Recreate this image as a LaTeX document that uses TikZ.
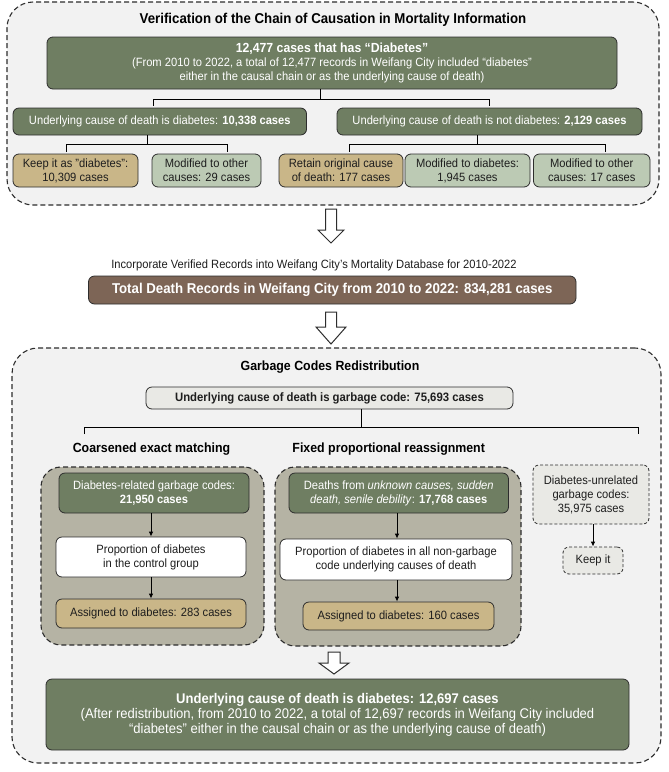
\documentclass[tikz,border=0pt]{standalone}
\usepackage{fontspec}
\setmainfont{Liberation Sans}[FakeStretch=0.93]
\usetikzlibrary{arrows.meta}
\definecolor{dgc}{RGB}{111,126,98}
\definecolor{tanc}{RGB}{201,182,136}
\definecolor{lgc}{RGB}{188,202,180}
\definecolor{grpc}{RGB}{181,179,164}
\definecolor{bgc}{RGB}{242,242,242}
\definecolor{gyc}{RGB}{233,233,229}
\definecolor{brc}{RGB}{125,101,86}
\definecolor{bdc}{RGB}{45,45,45}
\definecolor{txc}{RGB}{30,30,30}
\newcommand{\myfs}[2]{\fontsize{#1}{#2}\selectfont}
\newcommand{\sq}{\symbol{34}}
\tikzset{
 cont/.style={draw=bdc, line width=1.1pt, dash pattern=on 5pt off 3pt, rounded corners=26pt, fill=bgc, inner sep=0pt},
 grp/.style={draw=bdc, line width=1.1pt, dash pattern=on 5pt off 3pt, rounded corners=20pt, fill=grpc, inner sep=0pt},
 box/.style={draw=bdc, line width=0.8pt, rounded corners=6pt, inner sep=0pt, align=center, font=\myfs{12}{14}},
 dgbox/.style={box, fill=dgc, text=white},
 tanbox/.style={box, fill=tanc, text=txc},
 lgbox/.style={box, fill=lgc, text=txc},
 whbox/.style={box, fill=white, text=txc},
 gybox/.style={box, fill=gyc, text=txc},
 dashbox/.style={box, fill=gyc, text=txc, dash pattern=on 3pt off 2pt},
 br/.style={draw=black, line width=0.9pt},
 arr/.style={draw=black, line width=0.9pt, -{Latex[length=5pt,width=4.5pt]}},
 blk/.style={draw=bdc, line width=1pt, fill=white, line join=miter},
 ttl/.style={font=\myfs{14.25}{16}\bfseries, text=black},
 hdg/.style={font=\myfs{13.3}{15}\bfseries, text=black},
}
\begin{document}
\begin{tikzpicture}[x=1pt,y=-1pt]
\fill[white] (0,0) rectangle (669,772);
\useasboundingbox (0,0) rectangle (669,772);

% ---------- top panel ----------
\node[cont, minimum width=652, minimum height=203] (top) at (333,103.5) {};
\node[ttl] (t1) at (333,20) {Verification of the Chain of Causation in Mortality Information};
\node[dgbox, minimum width=570, minimum height=52] (main) at (332,63)
 {{\myfs{13.2}{15}\bfseries 12,477 cases that has “Diabetes”}\\
  (From 2010 to 2022, a total of 12,477 records in Weifang City included “diabetes”\\
  either in the causal chain or as the underlying cause of death)};
\node[dgbox, minimum width=293.5, minimum height=27] (l2a) at (159.8,121.5)
 {Underlying cause of death is diabetes: \textbf{10,338 cases}};
\node[dgbox, minimum width=305, minimum height=27] (l2b) at (489.5,121.5)
 {Underlying cause of death is not diabetes: \textbf{2,129 cases}};
\node[tanbox, minimum width=125, minimum height=33] (k1) at (75.5,170.5) {Keep it as \sq diabetes\sq:\\10,309 cases};
\node[lgbox, minimum width=109, minimum height=33] (k2) at (206.5,170.5) {Modified to other\\causes: 29 cases};
\node[tanbox, minimum width=124, minimum height=33] (k3) at (341,170.5) {Retain original cause\\of death: 177 cases};
\node[lgbox, minimum width=125, minimum height=33] (k4) at (467.5,170.5) {Modified to diabetes:\\1,945 cases};
\node[lgbox, minimum width=116.5, minimum height=33] (k5) at (591.75,170.5) {Modified to other\\causes: 17 cases};

% brackets top
\coordinate (b0) at (320,99);
\coordinate (b1) at (153,99);
\coordinate (b2) at (489,99);
\draw[br] (main.south -| b0) -- (b0);
\draw[br, shorten >=2pt] (b1) -- (b2) -- (l2b.north -| b2);
\draw[br, shorten >=2pt] (b1) -- (l2a.north -| b1);
\coordinate (c0) at (147,144);
\coordinate (c1) at (66,144);
\coordinate (c2) at (227,144);
\draw[br] (l2a.south -| c0) -- (c0);
\draw[br, shorten >=2pt] (c1) -- (c2) -- (k2.north -| c2);
\draw[br, shorten >=2pt] (c1) -- (k1.north -| c1);
\coordinate (d0) at (477,144);
\coordinate (d1) at (349,144);
\coordinate (d2) at (605,144);
\draw[br] (l2b.south -| d0) -- (d0);
\draw[br, shorten >=2pt] (d1) -- (d2) -- (k5.north -| d2);
\draw[br, shorten >=2pt] (d1) -- (k3.north -| d1);

% block arrow 1
\draw[blk] (325.5,209) -- (336.5,209) -- (336.5,230) -- (344,230) -- (331,243) -- (318,230) -- (325.5,230) -- cycle;

% ---------- middle ----------
\node[font=\myfs{12}{14}, text=txc] (inc) at (314,265) {Incorporate Verified Records into Weifang City’s Mortality Database for 2010-2022};
\node[box, fill=brc, text=white, minimum width=487.5, minimum height=28, font=\myfs{14.25}{16}\bfseries] (tot) at (332.25,290)
 {Total Death Records in Weifang City from 2010 to 2022: 834,281 cases};

% block arrow 2
\draw[blk] (325.5,312) -- (336.5,312) -- (336.5,327) -- (346,327) -- (331,344) -- (316,327) -- (325.5,327) -- cycle;

% ---------- bottom panel ----------
\node[cont, minimum width=649, minimum height=415] (bot) at (336.5,555.5) {};
\node[hdg] (t2) at (330,367) {Garbage Codes Redistribution};
\node[gybox, minimum width=367, minimum height=22, font=\myfs{12.2}{14}\bfseries] (gb) at (329.5,398)
 {Underlying cause of death is garbage code: 75,693 cases};
\coordinate (e0) at (361,427);
\coordinate (e1) at (84,427);
\coordinate (e2) at (638.5,427);
\coordinate (e1b) at (84,434);
\coordinate (e2b) at (638.5,434);
\draw[br] (gb.south -| e0) -- (e0);
\draw[br] (e1b) -- (e1) -- (e2) -- (e2b);

\node[hdg] (h1) at (151.5,449) {Coarsened exact matching};
\node[hdg] (h2) at (388.7,449) {Fixed proportional reassignment};

\node[grp, minimum width=223, minimum height=178] (g1) at (152.5,556) {};
\node[grp, minimum width=246, minimum height=179] (g2) at (398,556.5) {};

\node[dgbox, minimum width=190, minimum height=40] (a1) at (154,493)
 {Diabetes-related garbage codes:\\\textbf{21,950 cases}};
\node[whbox, minimum width=190, minimum height=40] (a2) at (151,557)
 {Proportion of diabetes\\in the control group};
\node[tanbox, minimum width=190, minimum height=29] (a3) at (151,613.5)
 {Assigned to diabetes: 283 cases};
\draw[arr] (a1.south -| a2.north) -- (a2.north);
\draw[arr] (a2.south) -- (a3.north);

\node[dgbox, minimum width=219.5, minimum height=40] (f1) at (398.75,493)
 {Deaths from \textit{unknown causes, sudden}\\\textit{death, senile debility}: \textbf{17,768 cases}};
\node[whbox, minimum width=232, minimum height=41] (f2) at (396,559.5)
 {Proportion of diabetes in all non-garbage\\code underlying causes of death};
\node[tanbox, minimum width=191, minimum height=28] (f3) at (398.5,616)
 {Assigned to diabetes: 160 cases};
\coordinate (fx) at (397,0);
\draw[arr] (f1.south -| fx) -- (f2.north -| fx);
\draw[arr] (f2.south -| fx) -- (f3.north -| fx);

\node[dashbox, minimum width=116, minimum height=59] (u1) at (591,494.5)
 {Diabetes-unrelated\\garbage codes:\\35,975 cases};
\node[dashbox, minimum width=60, minimum height=27] (u2) at (593,560.5) {Keep it};
\draw[arr] (u1.south -| u2.north) -- (u2.north);

% block arrow 3
\draw[blk] (328,652) -- (340,652) -- (340,663) -- (349,663) -- (334,674) -- (319,663) -- (328,663) -- cycle;

\node[dgbox, minimum width=583, minimum height=71, font=\myfs{14}{15}] (fin) at (337.5,714.5)
 {\textbf{Underlying cause of death is diabetes: 12,697 cases}\\
  (After redistribution, from 2010 to 2022, a total of 12,697 records in Weifang City included\\
  “diabetes” either in the causal chain or as the underlying cause of death)};
\end{tikzpicture}
\end{document}
